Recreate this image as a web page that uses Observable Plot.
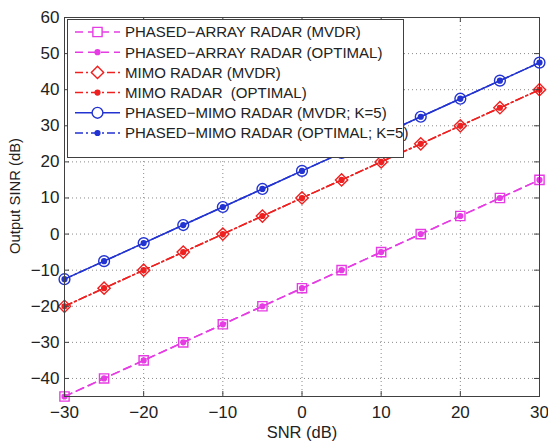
<!DOCTYPE html>
<html>
<head>
<meta charset="utf-8">
<script src="https://cdn.jsdelivr.net/npm/d3@7"></script>
<script src="https://cdn.jsdelivr.net/npm/@observablehq/plot@0.6"></script>
<style>
  html, body { margin: 0; padding: 0; background: #fff; }
  #chart { width: 548px; height: 441px; }
  #chart svg text.legend-label { white-space: pre; }
  #chart svg g[aria-label="x-axis tick label"] text,
  #chart svg g[aria-label="y-axis tick label"] text { font-size: 17px; }
</style>
</head>
<body>
<div id="chart"></div>
<script>
// Input SNR (dB)
const snr = [-30, -25, -20, -15, -10, -5, 0, 5, 10, 15, 20, 25, 30];

// Output SINR (dB) for each beamformer
const phasedMvdr = [-45, -40, -35, -30, -25, -20, -15, -10, -5, 0, 5, 10, 15];
const phasedOpt  = [-45, -40, -35, -30, -25, -20, -15, -10, -5, 0, 5, 10, 15];
const mimoMvdr   = [-20, -15, -10, -5, 0, 5, 10, 15, 20, 25, 30, 35, 40];
const mimoOpt    = [-20, -15, -10, -5, 0, 5, 10, 15, 20, 25, 30, 35, 40];
const pmMvdr     = [-12.5, -7.5, -2.5, 2.5, 7.5, 12.5, 17.5, 22.5, 27.5, 32.5, 37.5, 42.5, 47.5];
const pmOpt      = [-12.5, -7.5, -2.5, 2.5, 7.5, 12.5, 17.5, 22.5, 27.5, 32.5, 37.5, 42.5, 47.5];

const seriesNames = [
  "PHASED\u2212ARRAY RADAR (MVDR)",
  "PHASED\u2212ARRAY RADAR (OPTIMAL)",
  "MIMO RADAR (MVDR)",
  "MIMO RADAR  (OPTIMAL)",
  "PHASED\u2212MIMO RADAR (MVDR; K=5)",
  "PHASED\u2212MIMO RADAR (OPTIMAL; K=5)"
];

// Axis ticks
const xTicks = [-30, -20, -10, 0, 10, 20, 30];
const yTicks = [-40, -30, -20, -10, 0, 10, 20, 30, 40, 50, 60];
const xLabel = "SNR (dB)";
const yLabel = "Output SINR (dB)";

// Styling
const magenta = "#e63ce4";
const red = "#ee2020";
const blue = "#2233d2";
const dashed = "8,5";
const dashDot = "8,3,2,3";

// Square-on-point diamond (equal width and height)
const diamond = {
  draw(ctx, size) {
    const h = Math.sqrt(size / 2);
    ctx.moveTo(0, -h); ctx.lineTo(h, 0); ctx.lineTo(0, h); ctx.lineTo(-h, 0); ctx.closePath();
  }
};

const series = [
  {values: phasedMvdr, color: magenta, dash: dashed, symbol: "square", r: 5.2, fill: "none"},
  {values: phasedOpt,  color: magenta, dash: dashed, symbol: "circle", r: 2.4, fill: magenta},
  {values: mimoMvdr,   color: red,     dash: dashDot, symbol: diamond, r: 4.9, fill: "none"},
  {values: mimoOpt,    color: red,     dash: dashDot, symbol: "circle", r: 2.4, fill: red},
  {values: pmMvdr,     color: blue,    dash: null,    symbol: "circle", r: 5.4, fill: "none"},
  {values: pmOpt,      color: blue,    dash: dashDot, symbol: "circle", r: 2.4, fill: blue}
];

const W = 548, H = 441;
const mL = 64, mR = 9, mT = 17, mB = 45;
const plotW = W - mL - mR, plotH = H - mT - mB;
const tickLen = 5;
const frameColor = "#404040";
const font = '"Liberation Sans", Arial, sans-serif';

const seriesMarks = series.flatMap(s => {
  const rows = snr.map((x, i) => ({x, y: s.values[i]}));
  return [
    Plot.line(rows, {x: "x", y: "y", stroke: s.color, strokeWidth: 1.5,
      strokeDasharray: s.dash ?? undefined}),
    Plot.dot(rows, {x: "x", y: "y", symbol: s.symbol, r: s.r,
      stroke: s.color, strokeWidth: 1.4, fill: s.fill})
  ];
});

const gridX = xTicks.slice(1, -1);
const gridY = yTicks.slice(0, -1);

const chart = Plot.plot({
  width: W, height: H,
  marginLeft: mL, marginRight: mR, marginTop: mT, marginBottom: mB,
  x: {domain: [-30, 30]},
  y: {domain: [-45, 60]},
  style: {fontFamily: font, fontSize: "17px", color: "#222", background: "#fff"},
  marks: [
    Plot.ruleX(gridX, {stroke: "#8a8a8a", strokeWidth: 1, strokeDasharray: "1,3"}),
    Plot.ruleY(gridY, {stroke: "#8a8a8a", strokeWidth: 1, strokeDasharray: "1,3"}),
    ...seriesMarks,
    Plot.frame({stroke: frameColor}),
    // inward ticks on all four sides
    Plot.ruleX(xTicks, {insetTop: plotH - tickLen, stroke: frameColor}),
    Plot.ruleX(xTicks, {insetBottom: plotH - tickLen, stroke: frameColor}),
    Plot.ruleY(yTicks, {insetRight: plotW - tickLen, stroke: frameColor}),
    Plot.ruleY(yTicks, {insetLeft: plotW - tickLen, stroke: frameColor}),
    Plot.axisX(xTicks, {tickSize: 0, tickPadding: 9, label: null, fontSize: 17, ariaLabel: "x-axis tick label"}),
    Plot.axisY(yTicks, {tickSize: 0, tickPadding: 5, label: null, fontSize: 17, ariaLabel: "y-axis tick label"}),
    Plot.text([xLabel], {frameAnchor: "bottom", dy: 36, fontSize: 16.5, textAnchor: "middle", lineAnchor: "middle"}),
    Plot.text([yLabel], {frameAnchor: "left", dx: -49, dy: -11, rotate: -90, fontSize: 14.8, textAnchor: "middle", lineAnchor: "middle"})
  ]
});

document.getElementById("chart").appendChild(chart);

// Legend box in the upper-left corner of the axes
const svg = d3.select(chart);
const lg = svg.append("g").attr("class", "legend")
  .attr("text-anchor", "start").attr("font-family", font);
const box = {x: 67, y: 19, w: 336, h: 138};
lg.append("rect").attr("x", box.x + 0.5).attr("y", box.y + 0.5)
  .attr("width", box.w).attr("height", box.h)
  .attr("fill", "#fff").attr("stroke", frameColor).attr("stroke-width", 1);

series.forEach((s, i) => {
  const cy = 32 + i * 20.2;
  const row = lg.append("g");
  row.append("line").attr("x1", 75).attr("x2", 120).attr("y1", cy).attr("y2", cy)
    .attr("stroke", s.color).attr("stroke-width", 1.5)
    .attr("stroke-dasharray", s.dash ?? null);
  const type = typeof s.symbol === "string"
    ? (s.symbol === "square" ? d3.symbolSquare : d3.symbolCircle)
    : s.symbol;
  row.append("path")
    .attr("d", d3.symbol().type(type).size(s.r * s.r * Math.PI)())
    .attr("transform", `translate(97.5,${cy})`)
    .attr("fill", s.fill === "none" ? "#fff" : s.fill)
    .attr("stroke", s.color).attr("stroke-width", 1.4);
  row.append("text").attr("class", "legend-label")
    .attr("x", 125).attr("y", cy).attr("dy", "0.36em")
    .attr("text-anchor", "start")
    .attr("fill", "#222").attr("font-size", 15)
    .text(seriesNames[i]);
});
</script>
</body>
</html>
